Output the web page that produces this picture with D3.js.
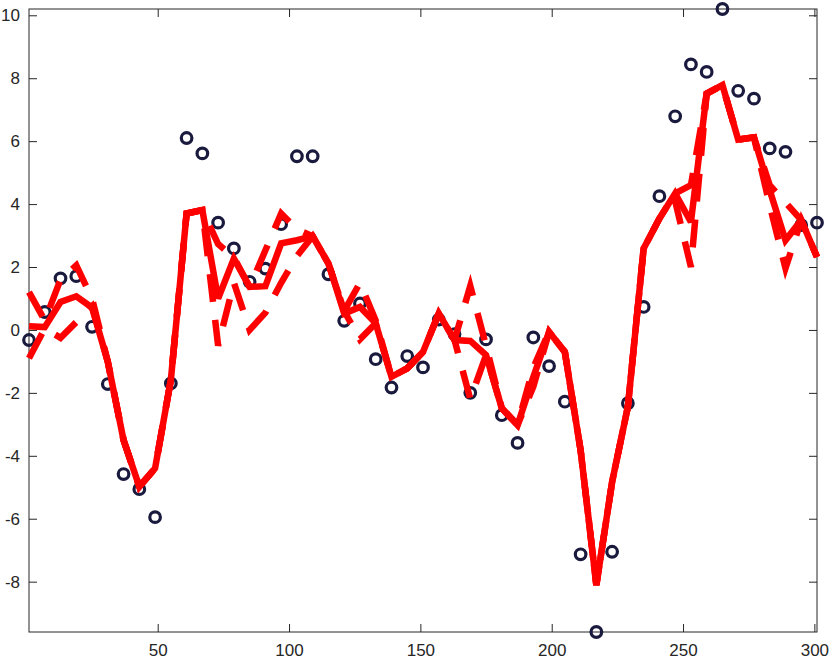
<!DOCTYPE html>
<html>
<head>
<meta charset="utf-8">
<script src="https://cdnjs.cloudflare.com/ajax/libs/d3/7.8.5/d3.min.js"></script>
<style>
  body { margin: 0; background: #fff; }
  .axis text { font-family: "Liberation Sans", Arial, sans-serif; font-size: 17px; fill: #262626; }
  .axis path { display: none; }
  .axis line { stroke: #262626; }
</style>
</head>
<body>
<div id="chart"></div>
<script>
// sample positions (every 6 steps)
var sampleX = [1, 7, 13, 19, 25, 31, 37, 43, 49, 55,
               61, 67, 73, 79, 85, 91, 97, 103, 109, 115,
               121, 127, 133, 139, 145, 151, 157, 163, 169, 175,
               181, 187, 193, 199, 205, 211, 217, 223, 229, 235,
               241, 247, 253, 259, 265, 271, 277, 283, 289, 295, 301];

// observations (circles)
var observed = [-0.32, 0.57, 1.64, 1.71, 0.10, -1.72, -4.58, -5.06, -5.95, -1.70,
                6.10, 5.61, 3.41, 2.59, 1.53, 1.95, 3.36, 5.52, 5.52, 1.77,
                0.29, 0.84, -0.93, -1.83, -0.83, -1.19, 0.33, -0.13, -2.00, -0.30,
                -2.71, -3.59, -0.24, -1.15, -2.28, -7.13, -9.60, -7.05, -2.33, 0.73,
                4.25, 6.79, 8.44, 8.20, 10.20, 7.60, 7.35, 5.77, 5.66, 3.33, 3.41];

// smoothed estimate (solid red)
var smoothed = [0.12, 0.09, 0.89, 1.07, 0.71, -1.01, -3.50, -4.98, -4.40, -1.59,
                3.70, 3.81, 1.00, 2.27, 1.37, 1.39, 2.75, 2.85, 2.98, 2.11,
                0.52, 0.73, 0.21, -1.49, -1.22, -0.70, 0.52, -0.32, -0.35, -0.80,
                -2.49, -3.02, -1.50, -0.06, -0.70, -3.82, -8.11, -4.83, -2.44, 2.59,
                3.54, 4.34, 3.43, 7.51, 7.78, 6.05, 6.12, 4.44, 2.85, 3.49, 2.32];

// first dashed estimate
var dashedA = [1.20, 0.30, 1.60, 2.05, 1.00, -1.01, -3.50, -4.98, -4.40, -1.59,
               3.70, 3.81, -0.50, 1.50, 0.00, 0.55, 1.50, 2.35, 2.98, 2.11,
               0.60, -0.30, 0.21, -1.49, -1.22, -0.70, 0.52, -0.32, 1.40, -0.50,
               -2.49, -3.02, -1.20, -0.06, -0.70, -3.82, -8.11, -4.83, -2.44, 2.59,
               3.54, 4.10, 2.00, 7.51, 7.78, 6.05, 6.12, 3.96, 1.96, 3.49, 2.32];

// second dashed estimate
var dashedB = [-0.90, 0.05, -0.25, 0.25, 0.75, -1.01, -3.50, -4.98, -4.40, -1.59,
               3.70, 3.81, 2.73, 2.30, 1.36, 2.53, 3.70, 3.20, 2.98, 2.11,
               0.60, 1.50, 0.30, -1.49, -1.22, -0.70, 0.52, -0.32, -2.20, -0.80,
               -2.49, -3.02, -1.80, -0.06, -0.70, -3.82, -8.11, -4.83, -2.44, 2.59,
               3.54, 4.34, 4.60, 7.51, 7.78, 6.05, 6.12, 4.60, 4.05, 3.49, 2.32];

var xTicks = [50, 100, 150, 200, 250, 300];
var yTicks = [-8, -6, -4, -2, 0, 2, 4, 6, 8, 10];

var width = 830, height = 660;
var plotLeft = 29, plotRight = 817, plotTop = 9, plotBottom = 632;

var svg = d3.select("#chart").append("svg")
    .attr("width", width)
    .attr("height", height);

var xScale = d3.scaleLinear().domain([1, 301]).range([plotLeft, plotRight]);
var yScale = d3.scaleLinear().domain(d3.extent(observed)).range([plotBottom, plotTop]);

var fmt = function(d) { return String(d); };

// box + ticks on all four sides, pointing inward
svg.append("rect")
    .attr("x", plotLeft).attr("y", plotTop)
    .attr("width", plotRight - plotLeft).attr("height", plotBottom - plotTop)
    .style("fill", "none")
    .style("stroke", "#262626");

svg.append("g")
    .attr("class", "axis")
    .attr("transform", "translate(0," + plotBottom + ")")
    .call(d3.axisBottom(xScale).tickValues(xTicks).tickSize(-8).tickPadding(12).tickFormat(fmt));

svg.append("g")
    .attr("class", "axis")
    .attr("transform", "translate(0," + plotTop + ")")
    .call(d3.axisTop(xScale).tickValues(xTicks).tickSize(-8).tickFormat(""));

svg.append("g")
    .attr("class", "axis")
    .attr("transform", "translate(" + plotLeft + ",0)")
    .call(d3.axisLeft(yScale).tickValues(yTicks).tickSize(-8).tickPadding(9).tickFormat(fmt));

svg.append("g")
    .attr("class", "axis")
    .attr("transform", "translate(" + plotRight + ",0)")
    .call(d3.axisRight(yScale).tickValues(yTicks).tickSize(-8).tickFormat(""));

// observations
svg.selectAll(".obs")
    .data(observed)
    .enter().append("circle")
    .attr("class", "obs")
    .attr("cx", function(d, i) { return xScale(sampleX[i]); })
    .attr("cy", function(d) { return yScale(d); })
    .attr("r", 5.3)
    .style("fill", "none")
    .style("stroke", "#1a1a3e")
    .style("stroke-width", 3.2);

var line = d3.line()
    .x(function(d, i) { return xScale(sampleX[i]); })
    .y(function(d) { return yScale(d); });

// dashed estimates
[dashedA, dashedB].forEach(function(series) {
    svg.append("path")
        .datum(series)
        .attr("d", line)
        .style("fill", "none")
        .style("stroke", "#ff0000")
        .style("stroke-width", 6.5)
        .style("stroke-dasharray", "28,18");
});

// smoothed line
svg.append("path")
    .datum(smoothed)
    .attr("d", line)
    .style("fill", "none")
    .style("stroke", "#ff0000")
    .style("stroke-width", 6.5)
    .style("stroke-linejoin", "miter")
    .style("stroke-miterlimit", 3);
</script>
</body>
</html>
